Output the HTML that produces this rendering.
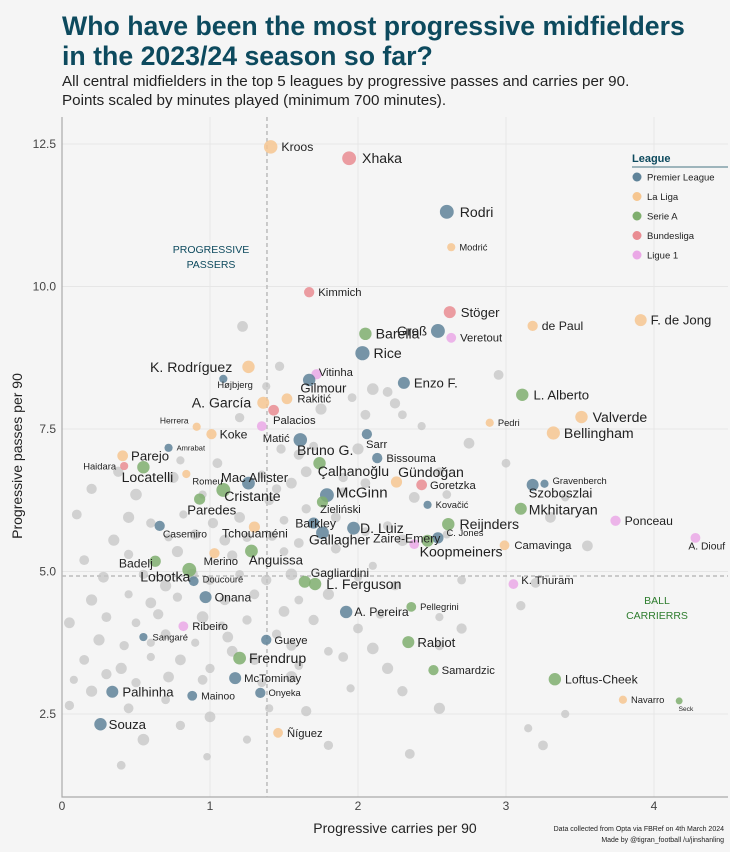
<!DOCTYPE html>
<html><head><meta charset="utf-8"><style>
body{margin:0;background:#f5f5f5;width:730px;height:847px;overflow:hidden;font-family:"Liberation Sans",sans-serif}
svg text{font-family:"Liberation Sans",sans-serif}
</style></head><body>
<svg id="chart" width="730" height="847" xmlns="http://www.w3.org/2000/svg">
<rect width="730" height="847" fill="#f5f5f5"/>
<text x="62" y="35" font-size="26.7" font-weight="bold" fill="#0d4a5e">Who have been the most progressive midfielders</text>
<text x="62" y="65" font-size="26.7" font-weight="bold" fill="#0d4a5e">in the 2023/24 season so far?</text>
<text x="62" y="86" font-size="15.2" fill="#222">All central midfielders in the top 5 leagues by progressive passes and carries per 90.</text>
<text x="62" y="105" font-size="15.2" fill="#222">Points scaled by minutes played (minimum 700 minutes).</text>
<g id="grid"></g><g id="pts"></g><g id="labels"></g>
<text x="211" y="253" font-size="10.5" fill="#0d4a5e" text-anchor="middle">PROGRESSIVE</text>
<text x="211" y="268" font-size="10.5" fill="#0d4a5e" text-anchor="middle">PASSERS</text>
<text x="657" y="604" font-size="10.5" fill="#2e7d2e" text-anchor="middle">BALL</text>
<text x="657" y="619" font-size="10.5" fill="#2e7d2e" text-anchor="middle">CARRIERRS</text>
<g id="legend"></g>
<text x="395" y="833" font-size="14" fill="#222" text-anchor="middle">Progressive carries per 90</text>
<text transform="translate(22,456) rotate(-90)" font-size="14" fill="#222" text-anchor="middle">Progressive passes per 90</text>
<text x="724" y="831" font-size="7" fill="#222" text-anchor="end">Data collected from Opta via FBRef on 4th March 2024</text>
<text x="724" y="842" font-size="7" fill="#222" text-anchor="end">Made by @tigran_football          /u/jinshanling</text>
</svg>
<script>
const names=["Kroos","Xhaka","Rodri","Modrić","Kimmich","Stöger","Groß","Veretout","de Paul","F. de Jong","Barella","Rice","Enzo F.","L. Alberto","Vitinha","Gilmour","K. Rodríguez","Højbjerg","Valverde","Bellingham","Pedri","A. García","Palacios","Rakitić","Matić","Herrera","Koke","Amrabat","Parejo","Haidara","Locatelli","Romeu","Mac Allister","Cristante","Paredes","Bruno G.","Sarr","Bissouma","Çalhanoğlu","Gündoğan","Goretzka","Kovačić","McGinn","Zieliński","Barkley","D. Luiz","Gallagher","Zaire-Emery","C. Jones","Koopmeiners","Reijnders","Camavinga","Szoboszlai","Gravenberch","Mkhitaryan","Ponceau","A. Diouf","K. Thuram","Tchouaméni","Casemiro","Anguissa","Merino","Badelj","Lobotka","Doucouré","Onana","Gagliardini","L. Ferguson","A. Pereira","Pellegrini","Ribeiro","Sangaré","Gueye","Rabiot","Frendrup","Samardzic","McTominay","Loftus-Cheek","Palhinha","Onyeka","Mainoo","Navarro","Seck","Souza","Ñíguez"];
const carries=[1.41,1.94,2.60,2.63,1.67,2.62,2.54,2.63,3.18,3.91,2.05,2.03,2.31,3.11,1.72,1.67,1.26,1.09,3.51,3.32,2.89,1.36,1.43,1.52,1.35,0.91,1.01,0.72,0.41,0.42,0.55,0.84,1.26,1.09,0.93,1.61,2.06,2.13,1.74,2.26,2.43,2.47,1.79,1.76,1.70,1.97,1.76,2.38,2.54,2.47,2.61,2.99,3.18,3.26,3.10,3.74,4.28,3.05,1.30,0.66,1.28,1.03,0.63,0.86,0.89,0.97,1.64,1.71,1.92,2.36,0.82,0.55,1.38,2.34,1.20,2.51,1.17,3.33,0.34,1.34,0.88,3.79,4.17,0.26,1.46];
const passes=[12.45,12.25,11.31,10.69,9.90,9.55,9.22,9.10,9.31,9.41,9.17,8.83,8.31,8.10,8.46,8.36,8.59,8.38,7.71,7.43,7.61,7.96,7.83,8.03,7.55,7.54,7.41,7.17,7.03,6.85,6.83,6.71,6.55,6.43,6.27,7.31,7.41,6.99,6.90,6.57,6.52,6.17,6.34,6.22,5.85,5.76,5.68,5.48,5.59,5.54,5.83,5.46,6.52,6.54,6.10,5.89,5.59,4.78,5.78,5.80,5.36,5.32,5.18,5.03,4.83,4.55,4.82,4.78,4.29,4.38,4.04,3.85,3.80,3.76,3.48,3.27,3.13,3.11,2.89,2.87,2.82,2.75,2.73,2.32,2.17];
const leagues=["LL","BL","PL","LL","BL","BL","PL","L1","LL","LL","SA","PL","PL","SA","L1","PL","LL","PL","LL","LL","LL","LL","BL","LL","L1","LL","LL","PL","LL","BL","SA","LL","PL","SA","SA","PL","PL","PL","SA","LL","BL","PL","PL","SA","PL","PL","PL","L1","PL","SA","SA","LL","PL","PL","SA","L1","L1","L1","LL","PL","SA","LL","SA","SA","PL","PL","SA","SA","PL","SA","L1","PL","PL","SA","SA","SA","PL","SA","PL","PL","PL","LL","SA","PL","LL"];
const minutes=[1900,2000,2000,700,1100,1500,2000,1000,1100,1500,1600,2100,1500,1600,1100,1600,1600,700,1600,1800,700,1500,1200,1200,1000,700,1100,700,1200,700,1600,700,1700,2000,1300,1900,1100,1100,1600,1300,1200,700,2000,1300,1300,1700,1700,1000,1300,1500,1600,1000,1500,700,1500,1100,1000,1000,1300,1100,1700,1100,1300,2000,1000,1500,1500,1600,1600,1000,1000,700,1100,1500,1700,1100,1500,1600,1500,1100,1000,700,500,1600,1000];
const labelSizes=[13,15,15,10,12,14,14,12,13,14,15,15,14,14,12,14,15,10,15,15,10,15,12,12,12,9,13,8,14,10,15,10,14,15,14,15,12,12,15,15,12,10,16,12,13,15,15,13,10,15,15,12,14,10,15,13,11,12,13,11,14,12,13,15,10,13,13,15,13,10,12,10,12,14,15,12,12,13,14,10,11,10,7,14,12];
const labelDx=[4,6,6,4,4,5,-4,4,4,4,4,4,4,5,-3,-15,-10,-10,5,4,4,-6,-6,5,-4,-4,3,4,3,-4,-28,2,-34,-6,-18,-10,-6,4,-8,-4,3,4,2,-8,-24,0,-20,-46,3,-14,5,5,-10,4,2,4,-12,3,-38,-2,-9,-16,-42,-56,4,3,0,5,2,4,4,5,3,3,3,3,3,4,4,3,4,4,-4,2,4];
const labelDy=[0,0,0,0,0,0,0,0,0,0,0,0,0,0,-2,8,0,6,0,0,0,0,10,0,12,-6,0,0,0,0,10,7,-6,6,11,10,10,0,8,-10,0,0,-3,7,0,0,7,-6,-5,11,0,0,8,-3,1,0,8,-4,6,8,9,8,2,7,-2,0,-9,0,0,0,0,0,0,0,0,0,0,0,0,0,0,0,8,0,0];
const labelAnchor=["s","s","s","s","s","s","e","s","s","s","s","s","s","s","s","s","e","s","s","s","s","e","s","s","s","e","s","s","s","e","s","s","s","s","s","s","s","s","s","s","s","s","s","s","s","s","s","s","s","s","s","s","s","s","s","s","s","s","s","s","s","s","s","s","s","s","s","s","s","s","s","s","s","s","s","s","s","s","s","s","s","s","s","s","s"];
const bgX=[1.22,1.47,1.38,2.1,2.2,1.96,2.25,1.2,1.75,2.05,2.3,2.43,2.75,1.48,1.6,1.7,2.0,1.05,0.8,1.65,1.9,2.55,0.38,0.75,1.35,2.05,1.55,1.45,1.9,0.2,0.5,0.95,1.4,1.65,2.38,2.6,3.4,0.1,0.45,0.6,0.82,1.02,1.2,1.5,1.85,2.2,0.35,0.72,0.9,1.1,1.42,1.6,2.05,2.3,2.6,3.55,0.15,0.45,0.78,1.15,1.5,1.85,2.1,0.28,0.55,0.7,1.0,1.2,1.38,1.55,2.0,2.25,2.7,3.2,0.2,0.45,0.6,0.78,1.1,1.3,1.6,1.8,2.55,3.1,0.05,0.3,0.5,0.65,0.95,1.08,1.25,1.5,2.0,2.15,2.7,0.25,0.42,0.7,0.9,1.12,1.55,1.8,2.1,2.55,0.15,0.4,0.6,0.8,1.0,1.3,1.6,1.9,2.2,0.08,0.3,0.5,0.72,0.95,1.35,1.55,1.95,2.3,0.05,0.2,0.45,0.7,1.0,1.4,1.65,2.55,0.55,0.8,1.25,2.35,0.4,0.98,1.8,3.4,3.25,3.15,3.3,3.0,2.95,1.25,0.88,1.7,0.6,1.15,1.45,0.35,0.9];
const bgY=[9.3,8.6,8.25,8.2,8.15,8.05,7.95,7.7,7.85,7.75,7.75,7.55,7.25,7.15,7.05,7.2,7.15,6.9,6.95,6.75,6.65,6.75,6.75,6.65,6.7,6.55,6.55,6.45,6.4,6.45,6.35,6.35,6.25,6.1,6.3,6.35,6.3,6.0,5.95,5.85,6.0,5.85,5.95,5.9,5.95,5.8,5.55,5.6,5.65,5.55,5.62,5.5,5.7,5.55,5.65,5.45,5.2,5.3,5.35,5.28,5.35,5.4,5.1,4.9,4.95,4.75,4.85,4.95,4.85,4.95,4.9,4.75,4.85,4.8,4.5,4.6,4.45,4.55,4.5,4.6,4.5,4.6,4.2,4.4,4.1,4.2,4.1,4.25,4.2,4.05,4.15,4.3,4.0,4.25,4.0,3.8,3.7,3.9,3.75,3.85,3.7,3.6,3.65,3.7,3.45,3.3,3.5,3.45,3.3,3.45,3.35,3.5,3.3,3.1,3.2,3.05,3.15,3.1,3.05,3.15,2.95,2.9,2.65,2.9,2.6,2.75,2.45,2.6,2.55,2.6,2.05,2.3,2.05,1.8,1.6,1.75,1.95,2.5,1.95,2.25,5.95,6.9,8.45,5.6,4.95,4.15,3.75,3.6,3.9,4.35,5.15];
const bgMinutes=[1200,900,700,1400,1000,800,1100,900,1300,1000,800,700,1200,900,1100,800,1300,1000,700,1200,900,800,1100,1300,700,1000,1200,900,800,1100,1400,700,1000,900,1200,800,700,1000,1300,900,700,1100,1200,800,1000,900,1300,700,1100,1200,900,1000,800,1400,700,1200,1000,900,1300,1100,800,1000,700,1200,900,1300,1000,800,1100,1400,700,900,800,1000,1300,700,1200,900,1100,1000,800,1300,700,900,1200,1000,800,1100,1400,700,900,1200,1000,800,1100,1300,900,1000,700,1200,1100,800,1400,900,1000,1300,700,1200,900,1100,800,1000,1300,700,1100,900,1200,1000,800,1400,700,1100,900,1300,1000,800,1200,700,1100,1300,1400,900,700,1000,800,600,900,700,1000,700,1200,800,1000,900,1300,1100,700,1200,900];
const leagueColor={PL:"#5f8399",LL:"#f6c690",SA:"#7fae6e",BL:"#e98c92",L1:"#eaa8e6"};
const legendNames=["Premier League","La Liga","Serie A","Bundesliga","Ligue 1"];
const legendKeys=["PL","LL","SA","BL","L1"];
const NS="http://www.w3.org/2000/svg";
const X0=62,XR=728,YT=117,YB=797;
const sx=v=>62+v*148, sy=v=>144+(12.5-v)*57;
const rad=m=>0.155*Math.sqrt(m);
function mk(tag,attrs,parent){const e=document.createElementNS(NS,tag);for(const k in attrs)e.setAttribute(k,attrs[k]);parent.appendChild(e);return e;}
const grid=document.getElementById("grid");
[2.5,5,7.5,10,12.5].forEach(v=>{
  const l=mk("line",{x1:X0,x2:XR,y1:sy(v),y2:sy(v),stroke:"#e6e6e6","stroke-width":1},grid);
  
  
  const t=mk("text",{x:56,y:sy(v)+4,"font-size":12,fill:"#444","text-anchor":"end"},grid);t.textContent=v.toFixed(1);
  
  
});
[0,1,2,3,4].forEach(v=>{
  const l=mk("line",{x1:sx(v),x2:sx(v),y1:YT,y2:YB,stroke:"#e6e6e6","stroke-width":1},grid);
  
  
  const t=mk("text",{x:sx(v),y:810,"font-size":12,fill:"#444","text-anchor":"middle"},grid);t.textContent=v;
  
  
});
const ax=mk("path",{d:`M${X0},${YT}V${YB}H${XR}`,stroke:"#aaa",fill:"none","stroke-width":1.2},grid);


const medX=1.385, medY=4.92;
const dv=mk("line",{x1:sx(medX),x2:sx(medX),y1:YT,y2:YB,stroke:"#bbb","stroke-dasharray":"4,3","stroke-width":1.5},grid);


const dh=mk("line",{x1:X0,x2:XR,y1:sy(medY),y2:sy(medY),stroke:"#bbb","stroke-dasharray":"4,3","stroke-width":1.5},grid);


const pts=document.getElementById("pts"),lab=document.getElementById("labels");
bgX.forEach((x,i)=>{
  const c=mk("circle",{cx:sx(x),cy:sy(bgY[i]),r:rad(bgMinutes[i]),fill:"#c4c4c4","fill-opacity":0.75},pts);
  
  
});
names.forEach((n,i)=>{
  const cx=sx(carries[i]),cy=sy(passes[i]),r=rad(minutes[i]);
  const c=mk("circle",{cx,cy,r,fill:leagueColor[leagues[i]],"fill-opacity":0.85},pts);
  
  
  const anc=labelAnchor[i]==="e"?"end":"start";
  const dx=anc==="end"?labelDx[i]-r:labelDx[i]+r;
  const fs=labelSizes[i]*0.94;
  const t=mk("text",{x:cx+dx,y:cy+labelDy[i]+fs*0.35,"font-size":fs,fill:"#222","text-anchor":anc},lab);
  t.textContent=n;
  
  
});
const lg=document.getElementById("legend");
const lt=mk("text",{x:632,y:162,"font-size":11,"font-weight":"bold",fill:"#0d4a5e"},lg);lt.textContent="League";


mk("line",{x1:632,x2:728,y1:167,y2:167,stroke:"#0d4a5e","stroke-width":0.8},lg);
legendKeys.forEach((k,i)=>{
  const y=177+i*19.5;
  const c=mk("circle",{cx:637,cy:y,r:4.5,fill:leagueColor[k]},lg);
  
  
  const t=mk("text",{x:647,y:y+3.5,"font-size":9.5,fill:"#222"},lg);t.textContent=legendNames[i];
  
  
});
</script>
</body></html>
